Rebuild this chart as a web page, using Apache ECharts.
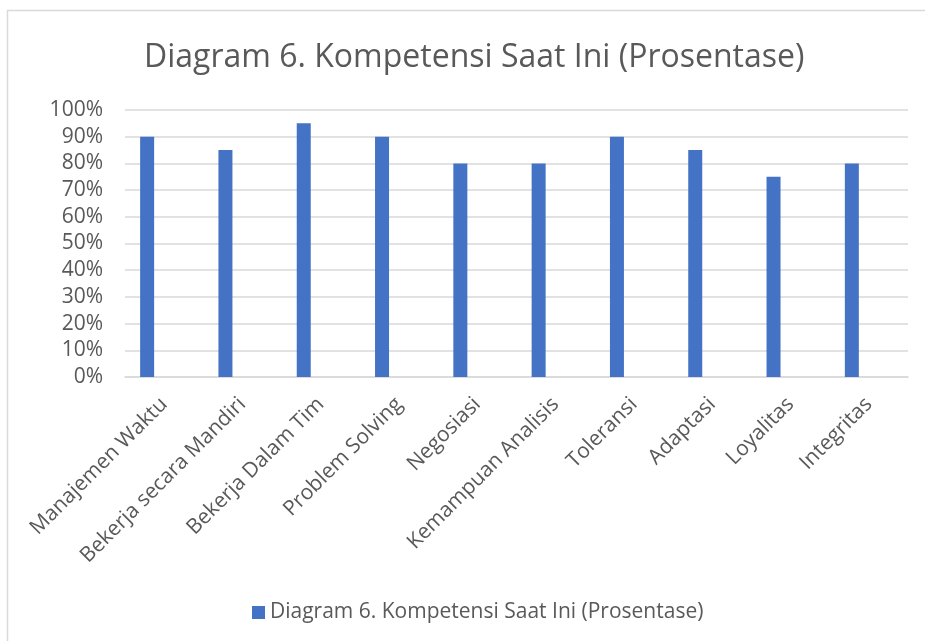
<!DOCTYPE html>
<html>
<head>
<meta charset="utf-8">
<script src="https://cdn.jsdelivr.net/npm/echarts@6/dist/echarts.min.js"></script>
<style>
html,body{margin:0;padding:0;background:#fff;}
#chart{width:925px;height:641px;}
</style>
</head>
<body>
<div id="chart"></div>
<script>
const titleText = 'Diagram 6. Kompetensi Saat Ini (Prosentase)';
const seriesName = 'Diagram 6. Kompetensi Saat Ini (Prosentase)';
const categories = ['Manajemen Waktu','Bekerja secara Mandiri','Bekerja Dalam Tim','Problem Solving','Negosiasi','Kemampuan Analisis','Toleransi','Adaptasi','Loyalitas','Integritas'];
const values = [90, 85, 95, 90, 80, 80, 90, 85, 75, 80];
const yMin = 0, yMax = 100, yStep = 10;

const FONT = '"Open Sans", "Liberation Sans", sans-serif';
const TXT = '#595959';
const GRID = '#D9D9D9';

const chart = echarts.init(document.getElementById('chart'), null, {renderer:'canvas'});
chart.setOption({
  backgroundColor:'#ffffff',
  animation:false,
  graphic:[{
    type:'rect', silent:true, z:-10,
    shape:{x:7.5, y:10.5, width:940, height:660},
    style:{fill:'none', stroke:'#D9D9D9', lineWidth:1.5}
  }],
  title:{
    text:titleText, left:139, top:37,
    textStyle:{fontFamily:FONT, fontWeight:'normal', fontSize:32, color:TXT}
  },
  legend:{
    data:[seriesName], bottom:13, left:247,
    itemWidth:13, itemHeight:13, itemGap:10,
    icon:'rect',
    textStyle:{fontFamily:FONT, fontSize:21, color:TXT}
  },
  grid:{left:125, right:17, top:110, bottom:264, containLabel:false},
  xAxis:{
    type:'category', data:categories,
    axisLine:{lineStyle:{color:GRID, width:1.5}},
    axisTick:{show:false},
    axisLabel:{rotate:45, interval:0, margin:24, fontFamily:FONT, fontSize:21, color:TXT}
  },
  yAxis:{
    type:'value', min:yMin, max:yMax, interval:yStep,
    axisLine:{show:false}, axisTick:{show:false},
    splitLine:{lineStyle:{color:GRID, width:1.5}},
    axisLabel:{formatter:'{value}%', margin:22, fontFamily:FONT, fontSize:21, color:TXT}
  },
  series:[
    {name:seriesName, type:'bar', data:values, barWidth:14, barGap:'143%',
     itemStyle:{color:'#4472C4'}},
    {name:'_spacer', type:'bar', data:[], barWidth:14, silent:true}
  ]
});
</script>
</body>
</html>
